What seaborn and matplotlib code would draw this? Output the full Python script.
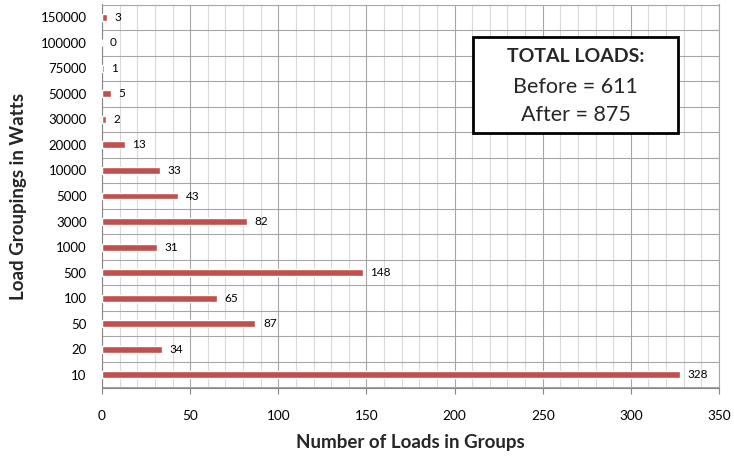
import matplotlib
matplotlib.use("Agg")
import matplotlib.pyplot as plt
import matplotlib.patches as mpatches
from matplotlib.ticker import MultipleLocator, FixedLocator
import seaborn as sns
import pandas as pd

# Load groupings (watts) and the number of loads in each group
groups = ["10", "20", "50", "100", "500", "1000", "3000", "5000",
          "10000", "20000", "30000", "50000", "75000", "100000", "150000"]
counts = [328, 34, 87, 65, 148, 31, 82, 43, 33, 13, 2, 5, 1, 0, 3]
x_ticks = [0, 50, 100, 150, 200, 250, 300, 350]
total_before = 611
total_after = 875

df = pd.DataFrame({"group": groups, "count": counts})
order = groups[::-1]  # largest grouping on top

sns.set_theme(style="white")
plt.rcParams["font.family"] = ["Lato", "DejaVu Sans"]

fig = plt.figure(figsize=(7.34, 4.57), dpi=100)
ax = fig.add_axes([102 / 734, 1 - 387.5 / 457, (719 - 102) / 734, (387.5 - 4.5) / 457])

sns.barplot(data=df, x="count", y="group", order=order, orient="h",
            color="#C0504D", saturation=1, width=0.27, ax=ax, zorder=3)

ax.set_xlim(0, 350)
ax.set_ylim(len(groups) - 0.5, -0.5)
ax.xaxis.set_major_locator(FixedLocator(x_ticks))
ax.xaxis.set_minor_locator(MultipleLocator(10))
ax.yaxis.set_minor_locator(FixedLocator([i + 0.5 for i in range(-1, len(groups))]))

ax.grid(which="minor", axis="x", color="#d9d9d9", linewidth=0.8, zorder=0)
ax.grid(which="major", axis="x", color="#a6a6a6", linewidth=0.8, zorder=1)
ax.grid(which="minor", axis="y", color="#a6a6a6", linewidth=0.8, zorder=1)
ax.grid(which="major", axis="y", visible=False)
ax.set_axisbelow(True)

for side in ["top", "right"]:
    ax.spines[side].set_color("#a6a6a6")
    ax.spines[side].set_linewidth(0.8)
for side in ["left", "bottom"]:
    ax.spines[side].set_color("#868686")
    ax.spines[side].set_linewidth(0.8)

ax.tick_params(axis="x", which="major", direction="out", length=4, width=0.8,
               color="#868686", labelsize=9.8, pad=12, bottom=True)
ax.tick_params(axis="x", which="minor", length=0)
ax.tick_params(axis="y", which="both", length=0, labelsize=9.5, pad=11)
for lbl in ax.get_xticklabels() + ax.get_yticklabels():
    lbl.set_color("#000000")

ax.set_xlabel("Number of Loads in Groups", fontsize=13.5, fontweight="bold",
              labelpad=9)
ax.set_ylabel("Load Groupings in Watts", fontsize=13.5, fontweight="bold",
              labelpad=10)

ax.bar_label(ax.containers[0], labels=[str(v) for v in df.set_index("group").loc[order, "count"]],
             padding=5.5, fontsize=8.5, color="#000000")

# Summary box with total load counts
box = mpatches.Rectangle((473 / 734, 1 - 133 / 457), (678 - 473) / 734, (133 - 37) / 457,
                         transform=fig.transFigure, facecolor="white",
                         edgecolor="black", linewidth=2, zorder=5)
fig.patches.append(box)
cx = 575.5 / 734
fig.text(cx, 1 - 57 / 457, "TOTAL LOADS:", ha="center", va="center",
         fontsize=14, fontweight="bold", zorder=6)
fig.text(cx, 1 - 87 / 457, f"Before = {total_before}", ha="center", va="center",
         fontsize=15.5, zorder=6)
fig.text(cx, 1 - 115 / 457, f"After = {total_after}", ha="center", va="center",
         fontsize=15.5, zorder=6)

fig.savefig("out.png", dpi=100)
